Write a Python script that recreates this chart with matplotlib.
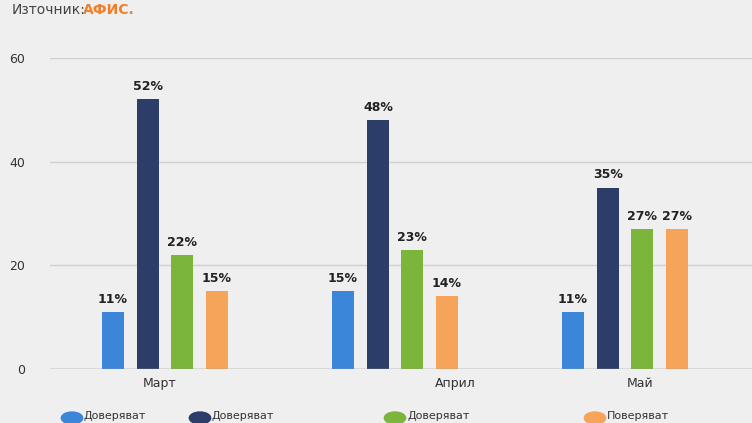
import matplotlib
matplotlib.use("Agg")
import matplotlib.pyplot as plt
import numpy as np

categories = ["Март", "Април", "Май"]
series_names = ["Д", "Д", "Д", "П"]
values = [
    [11, 15, 11],
    [52, 48, 35],
    [22, 23, 27],
    [15, 14, 27],
]
colors = ["#3b86d9", "#2c3d6a", "#7cb53c", "#f6a45a"]
yticks = [0, 20, 40, 60]

W, H = 752, 423
fig = plt.figure(figsize=(W/100, H/100), dpi=100, facecolor="#efefef")
ax = fig.add_axes([50/W, 1-369/H, 702/W, 311/H], facecolor="#efefef")
x = np.arange(len(categories))
unit = 230
offs = np.array([-52, -17, 17, 52]) / unit
bw = 22 / unit
for i, (vals, c) in enumerate(zip(values, colors)):
    bars = ax.bar(x + offs[i], vals, bw, color=c, zorder=3)
    for b, v in zip(bars, vals):
        ax.text(b.get_x()+b.get_width()/2, v+1.2, f"{v}%", ha="center", va="bottom",
                fontsize=9, fontweight="bold", color="#222222")
ax.set_xlim(-115/unit, -115/unit + 702/unit)
ax.set_ylim(0, 60)
ax.set_yticks(yticks)
ax.grid(axis="y", color="#d0d0d0", lw=1, zorder=0)
for s in ax.spines.values():
    s.set_visible(False)
ax.axhline(0, color="#999999", lw=1, zorder=4)
ax.tick_params(axis="y", length=0, labelsize=9, labelcolor="#333333", pad=18)
ax.set_xticks([(160-165)/unit, (455-165)/unit, (640-165)/unit])
ax.set_xticklabels(categories, fontsize=9, color="#333333")
ax.tick_params(axis="x", length=0, pad=6)

fig.text(12/W, 1-10/H, "Източник:", fontsize=10, color="#444444", va="center")
fig.text(83/W, 1-10/H, "АФИС.", fontsize=10, color="#f07f2a", fontweight="bold", va="center")

leg_x = [72, 200, 395, 595]
for lx, c, n in zip(leg_x, colors, series_names):
    fig.patches.append(matplotlib.patches.Circle((lx/W, 1-418/H), 6/H, transform=fig.transFigure,
                       color=c, figure=fig))
    fig.text((lx+12)/W, 1-416/H, n + "оверяват", fontsize=8, color="#333333", va="center")

fig.savefig("out.png", dpi=100, facecolor=fig.get_facecolor())
